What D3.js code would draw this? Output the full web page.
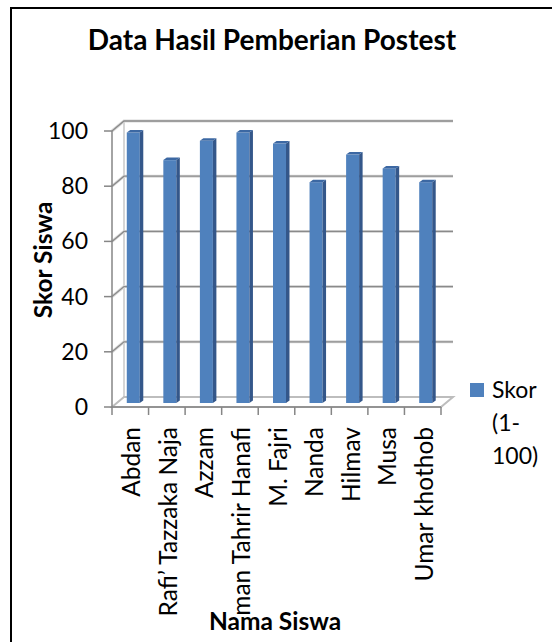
<!doctype html>
<html>
<head>
<style type="text/css">
body { margin: 0; background: white; }
text { font-family: Lato, sans-serif; fill: black; }
.title { font-size: 28px; font-weight: bold; text-anchor: middle; }
.axt { font-size: 24.5px; font-weight: bold; }
.tick { font-size: 23px; }
.xl { font-size: 24.5px; }
</style>
</head>
<body>
<svg width="552" height="642"></svg>
<script src="https://d3js.org/d3.v7.min.js"></script>
<script>
var names = ["Abdan", "Rafi\u2019 Tazzaka Naja", "Azzam", "man Tahrir Hanafi", "M. Fajri", "Nanda", "Hilmav", "Musa", "Umar khothob"];
var scores = [98, 88, 95, 98, 94, 80, 90, 85, 80];
var yTicks = [0, 20, 40, 60, 80, 100];
var legendLines = ["Skor", "(1-", "100)"];

var svg = d3.select("svg");

// depth of the 3d box
var DX = 12, DY = -10;

var x = d3.scaleBand().domain(names).range([112, 441]);
var y = d3.scaleLinear().domain([0, 100]).range([407, 131]);

// frame
svg.append("path")
    .attr("d", "M11,642 L11,8 L552,8")
    .attr("fill", "none")
    .attr("stroke", "black")
    .attr("stroke-width", 2);

svg.append("text").attr("class", "title")
    .attr("x", 272).attr("y", 50)
    .text("Data Hasil Pemberian Postest");

// back wall + gridlines
var x0 = x.range()[0], x1 = x.range()[1];
svg.append("line")
    .attr("x1", x0 + DX).attr("x2", x0 + DX)
    .attr("y1", y(100) + DY).attr("y2", y(0) + DY)
    .attr("stroke", "#c8c8c8").attr("stroke-width", 1.5);

yTicks.forEach(function(v) {
  if (v === 0) return;
  var d = "M" + x0 + "," + y(v) + " L" + (x0 + DX) + "," + (y(v) + DY) + " L" + (x1 + DX) + "," + (y(v) + DY);
  svg.append("path").attr("d", d)
      .attr("fill", "none")
      .attr("stroke", "#d9d9d9").attr("stroke-width", 3);
  svg.append("path").attr("d", d)
      .attr("fill", "none")
      .attr("stroke", "#8a8a8a").attr("stroke-width", 1.3);
});

// floor
svg.append("path")
    .attr("d", "M" + x0 + "," + y(0) + " L" + x1 + "," + y(0) + " L" + (x1 + DX) + "," + (y(0) + DY) +
      " L" + (x0 + DX) + "," + (y(0) + DY) + " Z")
    .attr("fill", "none")
    .attr("stroke", "#bdbdbd").attr("stroke-width", 2);

// bars
var fx = 3, fy = -4, bw = 13, sx = 3.5, sy = -2.5;
var g = svg.selectAll("g.bar").data(scores).enter().append("g").attr("class", "bar");

function bx(i) { return x(names[i]) + x.bandwidth() / 2 - bw / 2 + fx; }

g.append("rect")
    .attr("x", function(d, i) { return bx(i); })
    .attr("y", function(d) { return y(d) + fy; })
    .attr("width", bw)
    .attr("height", function(d) { return y(0) - y(d); })
    .attr("fill", "#4f81bd");
g.append("path")
    .attr("d", function(d, i) {
      var l = bx(i) + bw, t = y(d) + fy, b = y(0) + fy;
      return "M" + l + "," + t + " L" + (l + sx) + "," + (t + sy) + " L" + (l + sx) + "," + (b + sy) + " L" + l + "," + b + " Z";
    })
    .attr("fill", "#34578a");
g.append("path")
    .attr("d", function(d, i) {
      var l = bx(i), t = y(d) + fy;
      return "M" + l + "," + t + " L" + (l + sx) + "," + (t + sy) + " L" + (l + bw + sx) + "," + (t + sy) + " L" + (l + bw) + "," + t + " Z";
    })
    .attr("fill", "#3c68a3");

// y axis
svg.append("line")
    .attr("x1", x0).attr("x2", x0).attr("y1", y(100)).attr("y2", y(0))
    .attr("stroke", "#868686").attr("stroke-width", 1.5);
svg.selectAll("line.yt").data(yTicks).enter().append("line")
    .attr("x1", x0 - 8).attr("x2", x0)
    .attr("y1", function(d) { return y(d); }).attr("y2", function(d) { return y(d); })
    .attr("stroke", "#868686").attr("stroke-width", 1.5);
svg.selectAll("text.yl").data(yTicks).enter().append("text")
    .attr("class", "tick")
    .attr("x", 88).attr("y", function(d) { return y(d) + 8; })
    .attr("text-anchor", "end")
    .text(function(d) { return d; });

// x axis
svg.append("line")
    .attr("x1", x0).attr("x2", x1).attr("y1", y(0)).attr("y2", y(0))
    .attr("stroke", "#868686").attr("stroke-width", 1.5);
var edges = names.map(function(n) { return x(n); }).concat([x1]);
svg.selectAll("line.xt").data(edges).enter().append("line")
    .attr("x1", function(d) { return d; }).attr("x2", function(d) { return d; })
    .attr("y1", y(0)).attr("y2", y(0) + 8)
    .attr("stroke", "#868686").attr("stroke-width", 1.5);
svg.selectAll("text.xl").data(names).enter().append("text")
    .attr("class", "xl")
    .attr("text-anchor", "end")
    .attr("transform", function(d) { return "translate(" + (x(d) + x.bandwidth() / 2 + 10) + ",427) rotate(-90)"; })
    .text(function(d) { return d; });

// axis titles
svg.append("text").attr("class", "axt")
    .attr("text-anchor", "middle")
    .attr("transform", "translate(52,260) rotate(-90)")
    .text("Skor Siswa");
svg.append("text").attr("class", "axt")
    .attr("text-anchor", "middle")
    .attr("x", 275).attr("y", 630)
    .text("Nama Siswa");

// legend
svg.append("rect")
    .attr("x", 470).attr("y", 383).attr("width", 14).attr("height", 14)
    .attr("fill", "#4f81bd");
svg.selectAll("text.lg").data(legendLines).enter().append("text")
    .attr("class", "tick")
    .attr("x", 492).attr("y", function(d, i) { return 398 + i * 33; })
    .text(function(d) { return d; });
</script>
</body>
</html>
